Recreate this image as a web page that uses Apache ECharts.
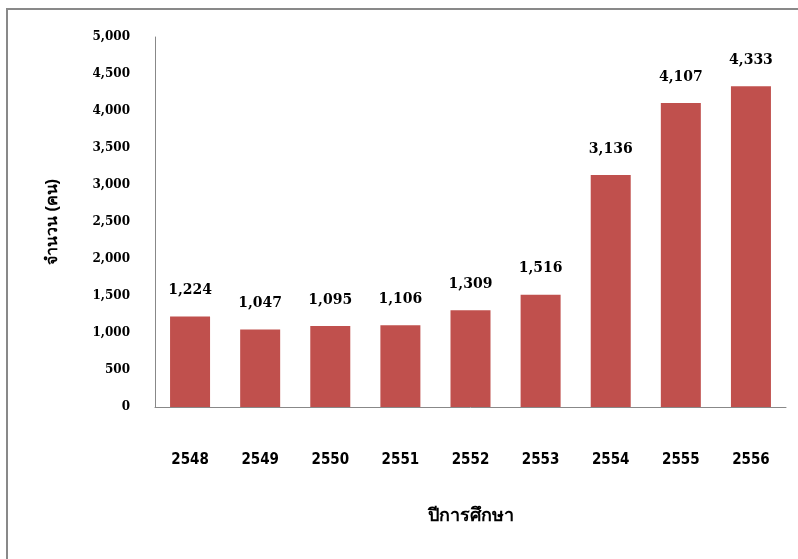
<!DOCTYPE html>
<html>
<head>
<meta charset="utf-8">
<script src="https://cdn.jsdelivr.net/npm/echarts@6/dist/echarts.min.js"></script>
<style>
  html, body { margin: 0; padding: 0; background: #fff; }
  #chart { width: 798px; height: 559px; }
</style>
</head>
<body>
<div id="chart"></div>
<script>
// 数据
var years = ['2548', '2549', '2550', '2551', '2552', '2553', '2554', '2555', '2556'];
var counts = [1224, 1047, 1095, 1106, 1309, 1516, 3136, 4107, 4333];
var yTicks = [0, 5000, 500];   // min, max, interval

var numFont = 'DejaVu Serif';
var catFont = "'DejaVu Sans Condensed', sans-serif";

var chart = echarts.init(document.getElementById('chart'));

var option = {
  backgroundColor: '#fff',
  animation: false,
  // 外框
  graphic: [{
    type: 'rect',
    shape: { x: 7, y: 9, width: 820, height: 580 },
    style: { fill: 'none', stroke: '#898989', lineWidth: 2 },
    silent: true
  }],
  grid: { left: 155, right: 12, top: 37, bottom: 152 },
  xAxis: {
    type: 'category',
    data: years,
    name: 'ปีการศึกษา',
    nameLocation: 'middle',
    nameGap: 100,
    nameTextStyle: { fontSize: 18, fontWeight: 'bold', color: '#000' },
    axisLine: { lineStyle: { color: '#888', width: 1 } },
    axisTick: { show: false },
    axisLabel: {
      margin: 46,
      fontSize: 15,
      fontWeight: 'bold',
      fontFamily: catFont,
      color: '#000'
    }
  },
  yAxis: {
    type: 'value',
    min: yTicks[0],
    max: yTicks[1],
    interval: yTicks[2],
    name: 'จำนวน (คน)',
    nameLocation: 'middle',
    nameGap: 94,
    nameRotate: 90,
    nameTextStyle: { fontSize: 16, fontWeight: 'bold', color: '#000' },
    axisLine: { show: true, lineStyle: { color: '#888', width: 1 } },
    axisTick: { show: false },
    splitLine: { show: false },
    axisLabel: {
      margin: 25,
      fontSize: 12,
      fontWeight: 'bold',
      fontFamily: numFont,
      color: '#000',
      formatter: function (v) { return v.toLocaleString('en-US'); }
    }
  },
  series: [{
    type: 'bar',
    data: counts,
    barWidth: 40,
    itemStyle: { color: '#C0504D' },
    label: {
      show: true,
      position: 'top',
      distance: 19,
      fontSize: 14,
      fontWeight: 'bold',
      fontFamily: numFont,
      color: '#000',
      formatter: function (p) { return p.value.toLocaleString('en-US'); }
    }
  }]
};

chart.setOption(option);
</script>
</body>
</html>
